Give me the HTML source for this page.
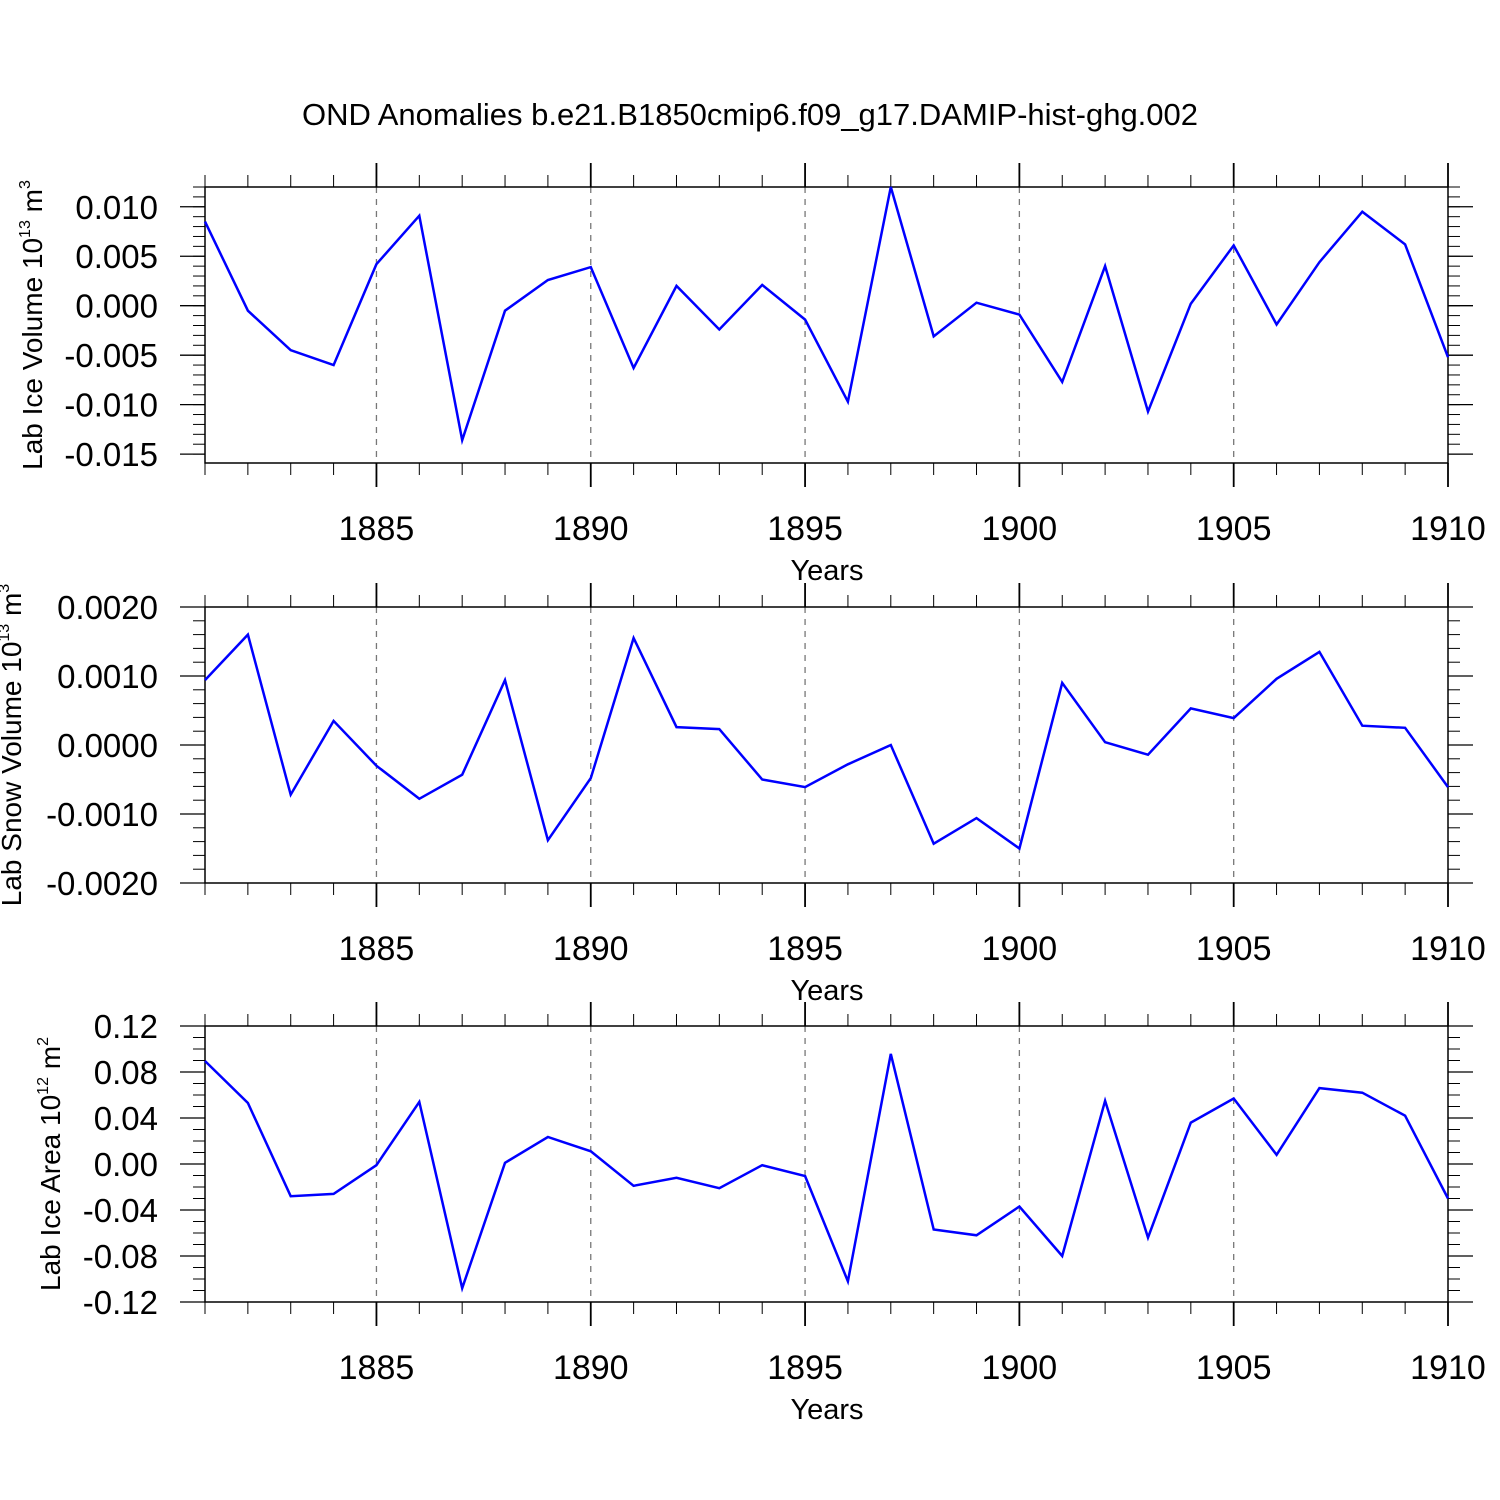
<!DOCTYPE html>
<html><head><meta charset="utf-8"><style>
html,body{margin:0;padding:0;background:#fff;}
svg{display:block;font-family:"Liberation Sans",Arial,sans-serif;}
</style></head><body>
<svg id="chart" width="1500" height="1500" viewBox="0 0 1500 1500" xmlns="http://www.w3.org/2000/svg">
<rect width="1500" height="1500" fill="#fff"/>
<text x="750" y="125" font-size="31" text-anchor="middle">OND Anomalies b.e21.B1850cmip6.f09_g17.DAMIP-hist-ghg.002</text>
</svg>
<script>
const years = [1881,1882,1883,1884,1885,1886,1887,1888,1889,1890,1891,1892,1893,1894,1895,1896,1897,1898,1899,1900,1901,1902,1903,1904,1905,1906,1907,1908,1909,1910];
const iceVolume = [0.0085,-0.0005,-0.0045,-0.006,0.0042,0.0091,-0.0136,-0.0005,0.0026,0.0039,-0.0063,0.002,-0.0024,0.0021,-0.0014,-0.0097,0.012,-0.0031,0.0003,-0.0009,-0.0077,0.004,-0.0107,0.0002,0.0061,-0.0019,0.0044,0.0095,0.0062,-0.0052];
const snowVolume = [0.00094,0.0016,-0.00072,0.00035,-0.0003,-0.00078,-0.00043,0.00094,-0.00138,-0.00048,0.00155,0.00026,0.00023,-0.0005,-0.00061,-0.00028,0.0,-0.00143,-0.00106,-0.0015,0.0009,0.00004,-0.00014,0.00053,0.00039,0.00096,0.00135,0.00028,0.00025,-0.00061];
const iceArea = [0.0896,0.053,-0.028,-0.026,-0.001,0.054,-0.108,0.001,0.0235,0.011,-0.019,-0.012,-0.021,-0.001,-0.0105,-0.102,0.0957,-0.057,-0.062,-0.037,-0.08,0.055,-0.064,0.036,0.057,0.008,0.066,0.062,0.042,-0.03];
const xTickLabels = ["1885","1890","1895","1900","1905","1910"];
const iceVolumeTicks = ["0.010","0.005","0.000","-0.005","-0.010","-0.015"];
const snowVolumeTicks = ["0.0020","0.0010","0.0000","-0.0010","-0.0020"];
const iceAreaTicks = ["0.12","0.08","0.04","0.00","-0.04","-0.08","-0.12"];

const NS="http://www.w3.org/2000/svg";
const svg=document.getElementById('chart');
function mk(tag,attrs,parent){const e=document.createElementNS(NS,tag);for(const k in attrs)e.setAttribute(k,attrs[k]);(parent||svg).appendChild(e);return e;}

const X0=205,X1=1448,XMIN=1881,XMAX=1910;
function xs(v){return X0+(v-XMIN)/(XMAX-XMIN)*(X1-X0);}

const panels=[
 {name:'ice-volume',top:187,bot:463,ymin:-0.0159,ymax:0.0120,minor:0.001,ticks:iceVolumeTicks,data:iceVolume,label:'Lab Ice Volume 10',sup:'13',unit:' m',usup:'3',lx:42},
 {name:'snow-volume',top:607,bot:883,ymin:-0.002,ymax:0.002,minor:0.0002,ticks:snowVolumeTicks,data:snowVolume,label:'Lab Snow Volume 10',sup:'13',unit:' m',usup:'3',lx:21},
 {name:'ice-area',top:1026,bot:1302,ymin:-0.12,ymax:0.12,minor:0.01,ticks:iceAreaTicks,data:iceArea,label:'Lab Ice Area 10',sup:'12',unit:' m',usup:'2',lx:60}
];

panels.forEach(p=>{
 const g=mk('g',{});
 
 
 const ys=v=>p.bot-(v-p.ymin)/(p.ymax-p.ymin)*(p.bot-p.top);
 xTickLabels.forEach(t=>{const x=xs(+t);if(x<X1-1){const l=mk('line',{x1:x,x2:x,y1:p.top,y2:p.bot,stroke:'#777','stroke-width':1.3,'stroke-dasharray':'6,6'},g);
  
  }});
 const box=mk('rect',{x:X0,y:p.top,width:X1-X0,height:p.bot-p.top,fill:'none',stroke:'#000','stroke-width':1.5},g);
 
 
 for(let yr=XMIN;yr<=XMAX;yr++){const x=xs(yr);const major=yr%5===0;const L=major?24:12;
  mk('line',{x1:x,x2:x,y1:p.top,y2:p.top-L,stroke:'#000','stroke-width':major?1.8:1},g);
  mk('line',{x1:x,x2:x,y1:p.bot,y2:p.bot+L,stroke:'#000','stroke-width':major?1.8:1},g);}
 const n0=Math.ceil(p.ymin/p.minor-1e-6),n1=Math.floor(p.ymax/p.minor+1e-6);
 for(let i=n0;i<=n1;i++){const y=ys(i*p.minor);
  mk('line',{x1:X0,x2:X0-12,y1:y,y2:y,stroke:'#000','stroke-width':1},g);
  mk('line',{x1:X1,x2:X1+12,y1:y,y2:y,stroke:'#000','stroke-width':1},g);}
 p.ticks.forEach(t=>{const y=ys(parseFloat(t));
  mk('line',{x1:X0,x2:X0-25,y1:y,y2:y,stroke:'#000','stroke-width':1.3},g);
  mk('line',{x1:X1,x2:X1+25,y1:y,y2:y,stroke:'#000','stroke-width':1.3},g);
  const tx=mk('text',{x:158,y:y+12,'font-size':33,'text-anchor':'end'},g);
  
  
  tx.textContent=t;});
 xTickLabels.forEach(t=>{const tx=mk('text',{x:xs(+t),y:p.bot+77,'font-size':34,'text-anchor':'middle'},g);
  
  
  tx.textContent=t;});
 const xt=mk('text',{x:827,y:p.bot+117,'font-size':29,'text-anchor':'middle'},g);
 
 
 xt.textContent='Years';
 const cy=(p.top+p.bot)/2;
 const yt=mk('text',{x:0,y:0,'font-size':28,'text-anchor':'middle',transform:`translate(${p.lx},${cy}) rotate(-90)`},g);
 
 
 yt.appendChild(document.createTextNode(p.label));
 const s1=mk('tspan',{'font-size':16,dy:-12},yt);s1.textContent=p.sup;
 const s2=mk('tspan',{dy:12},yt);s2.textContent=p.unit;
 const s3=mk('tspan',{'font-size':16,dy:-12},yt);s3.textContent=p.usup;
 const pts=years.map((yr,i)=>xs(yr).toFixed(1)+','+ys(p.data[i]).toFixed(1)).join(' ');
 const pl=mk('polyline',{points:pts,fill:'none',stroke:'#0000ff','stroke-width':2.5,'stroke-linejoin':'miter'},g);
 
 
});
</script>
</body></html>
